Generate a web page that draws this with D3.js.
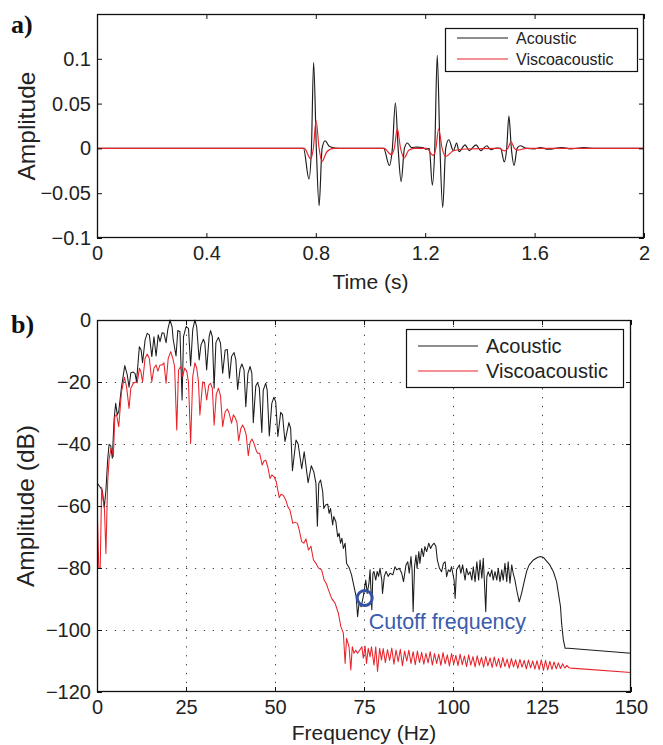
<!DOCTYPE html>
<html><head><meta charset="utf-8">
<script src="https://cdn.jsdelivr.net/npm/d3@7"></script>
<style>
body{margin:0;background:#fff}
svg{display:block}
</style>
</head><body>
<svg id="c" width="663" height="745" font-family='"Liberation Sans", Arial, Helvetica, sans-serif' fill="#222"></svg>
<script>
// ---------- data ----------
const seriesNames = ["Acoustic", "Viscoacoustic"];
const timeTicks = [0, 0.4, 0.8, 1.2, 1.6, 2];
const ampTicks = [-0.1, -0.05, 0, 0.05, 0.1];
const freqTicks = [0, 25, 50, 75, 100, 125, 150];
const dbTicks = [-120, -100, -80, -60, -40, -20, 0];

// panel a: [time (s), amplitude]
const acousticTrace = [
[0,0],[0.755,0],[0.775,-0.034],[0.784,0],[0.792,0.096],[0.802,0],[0.812,-0.064],[0.823,0],[0.834,0.0085],[0.85,0.002],[0.87,0.0005],[0.9,0],
[1.048,0],[1.069,-0.019],[1.08,0],[1.091,0.051],[1.101,0],[1.112,-0.037],[1.124,0],[1.135,0.006],[1.15,0.001],[1.17,0.0015],[1.19,0.001],[1.205,-0.001],
[1.215,0],[1.226,-0.041],[1.235,0],[1.244,0.104],[1.254,0],[1.264,-0.066],[1.275,0],[1.286,0.0096],[1.303,-0.0026],[1.315,0.006],[1.324,-0.0036],[1.346,0.004],[1.361,-0.0025],[1.386,0.004],[1.403,-0.0025],[1.425,0.003],[1.44,-0.0015],[1.46,0.0005],[1.476,0],
[1.489,-0.015],[1.498,0],[1.506,0.036],[1.515,0],[1.525,-0.019],[1.536,0],[1.547,0.003],[1.57,0],[1.6,-0.0005],[1.62,0.001],[1.65,-0.001],[1.7,0.001],[1.73,-0.0005],[1.78,0.0008],[1.82,0],[2,0]
];
const viscoTrace = [
[0,0],[0.758,0],[0.781,-0.0115],[0.791,0],[0.801,0.031],[0.812,0],[0.823,-0.0145],[0.84,-0.004],[0.865,0],
[1.05,0],[1.076,-0.007],[1.087,0],[1.098,0.022],[1.11,0],[1.123,-0.0108],[1.14,-0.002],[1.16,0],
[1.205,0],[1.229,-0.0078],[1.239,0],[1.249,0.0215],[1.262,0],[1.275,-0.009],[1.303,-0.0027],[1.35,-0.0007],
[1.47,0],[1.49,-0.0027],[1.502,0],[1.514,0.0074],[1.526,0],[1.537,-0.002],[1.57,0],[2,0]
];

// panel b: [frequency (Hz), amplitude (dB)]
const acousticSpec = [
[0,-52.5],[0.8,-53.8],[1.5,-55],[2.05,-60.5],[2.5,-55],[3.0,-45],[3.4,-40.1],[3.85,-40.5],[4.3,-44.6],[4.8,-32],[5.25,-26.9],[5.7,-30.6],[6.1,-29.5],[6.9,-21.5],[7.8,-14.7],[8.5,-17.7],[9.0,-21.7],[9.5,-17],[10.2,-16.8],[10.7,-17.3],[11.1,-19.9],[11.9,-8.6],[12.4,-9.7],[12.8,-13.8],[13.5,-6.5],[14.1,-4.3],[14.7,-4.8],[15.4,-11.8],[16.0,-5.4],[16.6,-11.6],[17.2,-4.8],[17.7,-7],[18.3,-4.1],[18.8,-4.3],[19.4,-7.3],[19.9,-3],[20.5,0],[21.1,-2.2],[21.4,-6.3],[22.2,-11.6],[22.7,-3.4],[23.3,-3.8],[23.9,-25.8],[24.3,-5.4],[25.0,-2.2],[25.7,-2.7],[26.3,-14.8],[26.9,-3],[27.5,0],[28.0,-2.2],[28.7,-12.9],[29.2,-8.1],[29.9,-6.2],[30.3,-7.5],[30.8,-16.1],[31.5,-5.4],[31.9,-3.4],[32.4,-5.4],[32.9,-22],[33.4,-7.3],[34.1,-5.6],[34.7,-7.5],[35.3,-17.2],[36.0,-9.7],[36.6,-9.5],[37.2,-18.8],[37.8,-11.8],[38.5,-10.5],[39.0,-12.9],[39.5,-22.4],[40.2,-15.7],[40.7,-14.2],[41.3,-16.1],[41.8,-28],[42.4,-17.2],[43.0,-15],[43.5,-17.2],[43.9,-33.1],[44.6,-21.3],[45.1,-20.2],[45.6,-22],[46.3,-36.3],[46.7,-22.6],[47.4,-20.4],[47.8,-22.6],[48.4,-37.4],[49.1,-26.9],[49.7,-24.9],[50.2,-26.4],[50.8,-37.6],[51.6,-29.8],[52.1,-30.5],[52.8,-39.2],[53.9,-33.1],[54.4,-35],[54.9,-48.6],[55.9,-38.7],[56.5,-40],[57.5,-48],[58.2,-42.5],[59.3,-52.5],[60.2,-47],[60.9,-49],[61.5,-52.7],[61.9,-66.5],[62.3,-52.7],[62.8,-51.6],[63.4,-55.4],[63.7,-60.8],[64.2,-59.7],[64.8,-59.4],[65.2,-62.4],[65.6,-60.8],[66.2,-66.1],[66.5,-63.4],[67.1,-65.1],[67.6,-69.9],[68.0,-68.8],[68.4,-72],[68.8,-70.4],[69.2,-73.7],[69.7,-72],[70.1,-78.5],[70.9,-80.1],[71.5,-82.2],[72.2,-86],[72.8,-89.2],[73.2,-95.7],[73.6,-91.4],[74.2,-92.5],[74.8,-89.2],[75.5,-83.9],[75.9,-88.2],[76.4,-84.9],[76.7,-80.6],[77.2,-93.5],[77.5,-81.7],[77.8,-81.1],[78.3,-83.9],[78.7,-81.1],[79.1,-82.7],[79.5,-80.1],[80.0,-83.9],[80.2,-88.2],[80.7,-82.7],[81.2,-81.1],[81.8,-82.7],[82.3,-81.7],[83.1,-82.2],[83.7,-79.6],[84.2,-80.6],[84.9,-80.1],[85.6,-81.7],[86.1,-84.4],[86.8,-79],[87.3,-78],[87.7,-81.7],
[88.2,-76.3],[88.5,-80.6],[88.8,-94.1],[89.2,-79.6],[89.6,-75.8],[89.9,-80.1],[90.4,-74.7],[90.7,-78.5],[91.2,-73.7],[91.7,-76.3],[92.1,-73.1],[92.6,-74.7],[93.2,-72],[93.7,-73.7],[94.2,-72.6],[94.7,-72],[95.2,-73.1],[95.6,-77.4],[96.2,-80.1],[96.8,-81.2],[97.3,-78.5],[97.8,-78],[98.2,-82.8],[98.7,-80.6],[99.2,-81.2],[99.6,-79.6],[100.3,-83.9],[100.6,-89.8],[101.0,-80.6],[101.8,-79],[102.2,-81.7],[102.7,-79],[103.4,-83.9],[103.8,-80.1],[104.3,-82.2],[104.8,-81.2],[105.3,-83.9],[105.7,-79.6],[106.2,-84.4],[106.7,-78],[107.2,-83.9],[107.6,-77.4],[108.1,-83.3],[108.5,-76.9],[108.8,-83.9],[109.2,-94.1],[109.5,-82.8],[109.9,-81.2],[110.4,-82.8],[110.9,-80.6],[111.3,-83.9],[111.8,-81.2],[112.3,-83.9],[112.7,-80.1],[113.2,-84.4],[113.7,-80.6],[114.1,-83.9],[114.6,-78.5],[115.1,-84.4],[115.5,-78],[116.0,-84.9],[116.5,-79],[116.9,-81.7],[117.4,-83.9],[117.9,-87.1],[118.6,-90.9],[119.3,-88],[119.9,-84.9],[120.7,-81],[121.4,-79],[122.6,-77.4],[123.7,-76.6],[124.6,-76.3],[125.4,-76.6],[126.3,-77.8],[127.2,-79],[128.2,-81.2],[129.1,-84.4],[129.9,-90.3],[130.2,-92.5],[130.5,-97.8],[131.0,-103.2],[131.5,-105.9],[132.4,-105.9],[150,-107.5]
];
const viscoSpec = [
[0,-58],[0.5,-80],[0.9,-80],[1.3,-54],[1.7,-58],[2.1,-61],[2.5,-75.3],[3.0,-52],[3.4,-45],[3.9,-41.4],[4.3,-42],[4.6,-44.1],[5.0,-31.2],[5.5,-30.5],[6.1,-34.4],[6.9,-23],[7.7,-18.5],[8.3,-21.5],[9.0,-28.5],[9.5,-22],[10.2,-20.4],[10.9,-20],[11.3,-20.3],[11.9,-15.6],[12.3,-16.5],[12.8,-19.9],[13.5,-12.4],[14.1,-11],[14.7,-12.4],[15.4,-19.9],[16.0,-15.5],[16.6,-14.5],[17.1,-16.5],[17.7,-14.5],[18.3,-14.5],[18.8,-13.8],[19.4,-20.4],[20.0,-12.4],[20.7,-10.2],[21.3,-12.4],[21.8,-15],[22.4,-35.5],[22.9,-16.1],[23.5,-15],[24.1,-18.2],[24.6,-15.5],[25.2,-16.5],[25.7,-20],[26.3,-39.8],[26.9,-18.2],[27.5,-13.8],[28.0,-15.5],[28.5,-19.9],[28.9,-30.6],[29.7,-19.9],[30.2,-20.5],[30.8,-25.8],[31.4,-21],[31.9,-20.4],[32.4,-22],[32.9,-33.9],[33.5,-24],[34.1,-22],[34.7,-24.5],[35.3,-34.4],[36.0,-29.6],[36.6,-28.7],[37.1,-30],[37.8,-33.3],[38.3,-30.6],[38.8,-31.5],[39.3,-33],[39.8,-39],[40.4,-35],[40.9,-33.9],[41.4,-35],[41.9,-37],[42.5,-43.8],[43.0,-39.5],[43.5,-38.4],[44.0,-39.5],[44.7,-42],[45.1,-43],[45.7,-43],[46.4,-46.8],[46.9,-45.5],[47.4,-45.2],[48.0,-47.5],[48.6,-51.1],[49.1,-50],[49.7,-50.5],[50.3,-52],[51.2,-57.3],[51.7,-56.2],[52.3,-56.5],[53.0,-58],[53.6,-60.2],[54.2,-61.3],[55.0,-65.6],[55.6,-65.2],[56.3,-65.6],[56.8,-67.7],[57.5,-71.5],[58.1,-72],[58.7,-70.6],[59.4,-74.2],[60.1,-73],[60.8,-77.4],[61.5,-78.5],[62.2,-80],[63.1,-80.6],[63.8,-83.9],[64.4,-85],[65.0,-87],[65.9,-89.8],[66.9,-91.4],[67.8,-94.6],[68.5,-98.9],[69.2,-101],[69.7,-110.8],[70.1,-102.7],[70.8,-105.4],[71.3,-112.9],[71.7,-105.4],[72.2,-107.5],[72.7,-106.5],[73.2,-107.5],[73.8,-106.5],[74.4,-105.4],[74.8,-109.1],[75.3,-105.2],[75.7,-110.8],[76.2,-105.9],[76.7,-108.6],[77.1,-105.4],[77.8,-111.3],[78.3,-105.4],[78.8,-113.4],[79.4,-105.9],[79.9,-109.7],
[80.4,-106],[81.0,-110.5],[81.6,-106.3],[82.2,-109.8],[82.8,-105.8],[83.4,-111],[84.0,-106.5],[84.6,-110.2],[85.2,-106.2],[85.8,-111.5],[86.4,-106.8],[87.0,-110],[87.6,-106.5],[88.2,-110.8],[88.8,-107],[89.4,-111.2],[90.0,-106.8],[90.6,-110.5],[91.2,-107.2],[91.8,-111],[92.4,-107.5],[93.0,-110.6],[93.6,-107],[94.2,-111.3],[94.8,-107.6],[95.4,-110.8],[96.0,-107.8],[96.6,-111.4],[97.2,-107.3],[97.8,-110.9],[98.4,-108],[99.0,-111.6],[99.6,-107.6],[100.2,-111],[100.8,-108.2],[101.4,-111.5],[102.0,-107.8],[102.6,-111.2],[103.2,-108.4],[103.8,-111.8],[104.4,-108],[105.0,-111.3],[105.6,-108.6],[106.2,-111.9],[106.8,-108.3],[107.4,-111.4],[108.0,-108.8],[108.6,-112],[109.2,-108.5],[109.8,-111.6],[110.4,-109],[111.0,-112.1],[111.6,-108.7],[112.2,-111.7],[112.8,-109.2],[113.4,-112.2],[114.0,-108.9],[114.6,-111.8],[115.2,-109.4],[115.8,-112.3],[116.4,-109.2],[117.0,-111.9],[117.6,-109.6],[118.2,-112.4],[118.8,-109.5],[119.4,-112],[120.0,-109.8],[120.6,-112.5],[121.2,-109.7],[121.8,-112.2],[122.4,-110],[123.0,-112.6],[123.6,-109.9],[124.2,-112.8],[124.8,-109.6],[125.4,-113],[126.0,-109.8],[126.6,-112.9],[127.2,-110.1],[127.8,-112.7],[128.4,-110.3],[129.0,-112.5],[129.6,-110.6],[130.2,-112.4],[130.8,-110.9],[131.4,-112.3],[132.0,-111.4],[132.6,-112.2],[133.2,-112.3],[150,-113.7]
];
const cutoffPoint = [75.2, -89.7];
const cutoffLabel = "Cutoff frequency";

// ---------- drawing ----------
const svg = d3.select("#c");
const BLACK = "#1c1c1c", RED = "#e8232a", BLUE = "#3553a6";
const SANS = '"Liberation Sans", Arial, Helvetica, sans-serif';
const fmt = d => d < 0 ? "\u2212" + Math.abs(d) : String(d);

function panel(cfg) {
  const {L, R, T, B} = cfg;
  const x = d3.scaleLinear().domain(cfg.xDomain).range([L, R]);
  const y = d3.scaleLinear().domain(cfg.yDomain).range([B, T]);
  const g = svg.append("g");
  const clipId = "clip" + cfg.id;
  svg.append("clipPath").attr("id", clipId).append("rect")
    .attr("x", L).attr("y", T - 1).attr("width", R - L).attr("height", B - T + 2);

  if (cfg.grid) {
    const gg = g.append("g").attr("stroke", "#444").attr("stroke-width", 1)
      .attr("stroke-dasharray", "1.3 7.6");
    gg.selectAll(".vx").data(cfg.xTicks.slice(1, -1)).join("line")
      .attr("x1", d => Math.round(x(d)) + 0.5).attr("x2", d => Math.round(x(d)) + 0.5)
      .attr("y1", B).attr("y2", T);
    gg.selectAll(".hy").data(cfg.yTicks.slice(1, -1)).join("line")
      .attr("y1", d => Math.round(y(d)) + 0.5).attr("y2", d => Math.round(y(d)) + 0.5)
      .attr("x1", L).attr("x2", R);
  }

  const line = d3.line().x(d => x(d[0])).y(d => y(d[1])).curve(cfg.curve);
  cfg.series.forEach(s => {
    g.append("path").datum(s.data).attr("clip-path", `url(#${clipId})`)
      .attr("fill", "none").attr("stroke", s.color).attr("stroke-width", s.width)
      .attr("stroke-linejoin", "round").attr("d", line);
  });

  const styleAxis = sel => {
    sel.attr("font-family", SANS).attr("font-size", cfg.tickFont);
    sel.select(".domain").remove();
    sel.selectAll(".tick line").attr("stroke", "#111").attr("stroke-width", 1);
    sel.selectAll(".tick text").attr("fill", "#222");
  };
  g.append("g").attr("transform", `translate(0,${B})`)
    .call(d3.axisBottom(x).tickValues(cfg.xTicks).tickSize(-5).tickPadding(cfg.xPad).tickFormat(fmt)).call(styleAxis);
  g.append("g").attr("transform", `translate(0,${T})`)
    .call(d3.axisTop(x).tickValues(cfg.xTicks).tickSize(-5).tickFormat("")).call(styleAxis);
  g.append("g").attr("transform", `translate(${L},0)`)
    .call(d3.axisLeft(y).tickValues(cfg.yTicks).tickSize(-5).tickPadding(cfg.yPad).tickFormat(fmt)).call(styleAxis);
  g.append("g").attr("transform", `translate(${R},0)`)
    .call(d3.axisRight(y).tickValues(cfg.yTicks).tickSize(-5).tickFormat("")).call(styleAxis);

  g.append("rect").attr("x", L + 0.5).attr("y", T + 0.5).attr("width", R - L - 1).attr("height", B - T - 1)
    .attr("fill", "none").attr("stroke", "#111").attr("stroke-width", 1.3);

  // axis labels
  g.append("text").attr("x", (L + R) / 2).attr("y", cfg.xLabelY).attr("text-anchor", "middle")
    .attr("font-size", cfg.labelFont).attr("fill", "#222").text(cfg.xLabel);
  g.append("text").attr("transform", `translate(${cfg.yLabelX},${(T + B) / 2}) rotate(-90)`)
    .attr("text-anchor", "middle").attr("font-size", cfg.yLabelFont).attr("fill", "#222").text(cfg.yLabel);
  // panel letter
  g.append("text").attr("x", 11).attr("y", cfg.letterY).attr("font-size", 26).attr("font-weight", "bold")
    .attr("font-family", '"Liberation Serif", "Times New Roman", serif').attr("fill", "#111").text(cfg.letter);

  // legend
  const lg = cfg.legend;
  g.append("rect").attr("x", lg.x + 0.5).attr("y", lg.y + 0.5).attr("width", lg.w).attr("height", lg.h)
    .attr("fill", "#fff").attr("stroke", "#111").attr("stroke-width", 1.2);
  cfg.series.forEach((s, i) => {
    const yy = lg.y + lg.row0 + i * lg.rowH;
    g.append("line").attr("x1", lg.x + lg.l0).attr("x2", lg.x + lg.l1).attr("y1", yy).attr("y2", yy)
      .attr("stroke", s.color).attr("stroke-width", 1.2);
    g.append("text").attr("x", lg.x + lg.tx).attr("y", yy).attr("dy", "0.35em")
      .attr("font-size", lg.font).attr("fill", "#222").text(s.name);
  });
  return {x, y, g};
}

panel({
  id: "a", L: 97, R: 644, T: 14, B: 238,
  xDomain: [0, 2], yDomain: [-0.1, 0.15],
  xTicks: timeTicks, yTicks: ampTicks, xPad: 8, yPad: 6, tickFont: 20,
  curve: d3.curveMonotoneX, grid: false,
  series: [
    {name: seriesNames[0], data: acousticTrace, color: BLACK, width: 1.15},
    {name: seriesNames[1], data: viscoTrace, color: RED, width: 1.15}
  ],
  xLabel: "Time (s)", xLabelY: 289, yLabel: "Amplitude", yLabelX: 35, labelFont: 21, yLabelFont: 24.5,
  letter: "a)", letterY: 33,
  legend: {x: 445, y: 28, w: 192, h: 43, row0: 10, rowH: 21, l0: 12, l1: 63, tx: 71, font: 16}
});

const pb = panel({
  id: "b", L: 97, R: 631, T: 320, B: 692,
  xDomain: [0, 150], yDomain: [-120, 0],
  xTicks: freqTicks, yTicks: dbTicks, xPad: 8, yPad: 6, tickFont: 20,
  curve: d3.curveLinear, grid: true,
  series: [
    {name: seriesNames[0], data: acousticSpec, color: BLACK, width: 1.05},
    {name: seriesNames[1], data: viscoSpec, color: RED, width: 1.05}
  ],
  xLabel: "Frequency (Hz)", xLabelY: 740, yLabel: "Amplitude (dB)", yLabelX: 34, labelFont: 21, yLabelFont: 24.5,
  letter: "b)", letterY: 333,
  legend: {x: 406, y: 329, w: 217, h: 58, row0: 17, rowH: 25, l0: 12, l1: 72, tx: 80, font: 20}
});

// cutoff annotation
pb.g.append("circle").attr("cx", pb.x(cutoffPoint[0])).attr("cy", pb.y(cutoffPoint[1])).attr("r", 7.5)
  .attr("fill", "none").attr("stroke", BLUE).attr("stroke-width", 3);
pb.g.append("text").attr("x", pb.x(cutoffPoint[0]) + 4).attr("y", pb.y(cutoffPoint[1]) + 31)
  .attr("font-size", 21.5).attr("fill", "#3b5cad").text(cutoffLabel);
</script>
</body></html>
